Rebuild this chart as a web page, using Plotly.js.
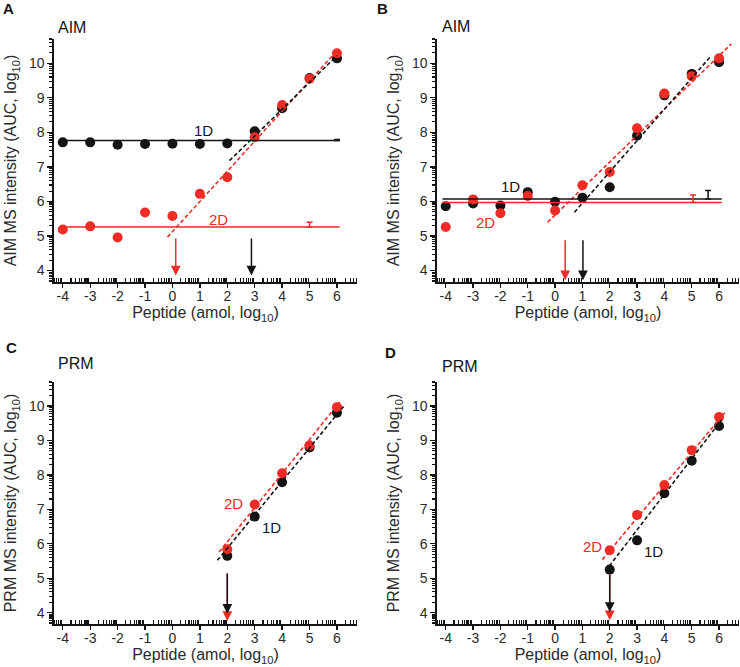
<!DOCTYPE html>
<html>
<head>
<meta charset="utf-8">
<script src="https://cdn.plot.ly/plotly-3.0.1.min.js"></script>
<style>html,body{margin:0;padding:0;background:#fff;}#chart{width:740px;height:667px;}</style>
</head>
<body>
<div id="chart"></div>
<script>
// ---------- data ----------
const doses = [-4, -3, -2, -1, 0, 1, 2, 3, 4, 5, 6];
const aimA_1D = [7.71, 7.71, 7.64, 7.66, 7.67, 7.66, 7.68, 8.03, 8.70, 9.57, 10.14];
const aimA_2D = [5.19, 5.28, 4.96, 5.68, 5.58, 6.22, 6.70, 7.86, 8.79, 9.55, 10.29];
const aimB_1D = [5.86, 5.94, 5.88, 6.27, 5.99, 6.11, 6.41, 7.90, 9.07, 9.69, 10.03];
const aimB_2D = [5.26, 6.06, 5.66, 6.16, 5.74, 6.47, 6.85, 8.12, 9.12, 9.62, 10.14];
const prmDoses = [2, 3, 4, 5, 6];
const prmC_1D = [5.65, 6.79, 7.79, 8.80, 9.81];
const prmC_2D = [5.84, 7.14, 8.05, 8.86, 9.97];
const prmD_1D = [5.25, 6.10, 7.47, 8.41, 9.42];
const prmD_2D = [5.81, 6.84, 7.71, 8.72, 9.68];

// background (blank) levels, drawn as horizontal lines
const blankLineX = [-4.12, 6.1];
const blankA_1D = 7.76, blankA_2D = 5.26;
const blankB_1D = 6.07, blankB_2D = 5.97;
// error bars on blank levels
const errA_1D = {x: 6.0, up: 0.03}, errA_2D = {x: 5.0, up: 0.14};
const errB_1D = {x: 5.6, up: 0.25}, errB_2D = {x: 5.05, up: 0.22};

// linear fit segments (x endpoints, y endpoints)
const fitA_1D_x = [2.08, 6.0], fitA_1D_y = [7.18, 10.22];
const fitA_2D_x = [-0.18, 6.0], fitA_2D_y = [4.97, 10.36];
const fitB_1D_x = [0.71, 5.72], fitB_1D_y = [5.69, 10.22];
const fitB_2D_x = [-0.27, 6.45], fitB_2D_y = [5.40, 10.56];
const fitC_1D_x = [1.64, 6.30], fitC_1D_y = [5.52, 10.05];
const fitC_2D_x = [1.70, 6.12], fitC_2D_y = [5.76, 10.14];
const fitD_1D_x = [1.98, 6.09], fitD_1D_y = [5.35, 9.60];
const fitD_2D_x = [1.73, 6.21], fitD_2D_y = [5.54, 9.81];

// limit-of-detection arrows: x, top y, tip y
const lodA = {x2D: 0.12, x1D: 2.88, top: 4.97, tip2D: 3.86, tip1D: 3.86};
const lodB = {x2D: 0.37, x1D: 1.02, top: 4.92, tip2D: 3.72, tip1D: 3.72};
const lodC = {x2D: 2.0, x1D: 2.0, top: 5.18, tip2D: 3.76, tip1D: 3.97};
const lodD = {x2D: 2.0, x1D: 2.0, top: 5.15, tip2D: 3.78, tip1D: 4.02};

const xTickVals = [-4, -3, -2, -1, 0, 1, 2, 3, 4, 5, 6];
const xTickText = ['-4', '-3', '-2', '-1', '0', '1', '2', '3', '4', '5', '6'];
const yTickVals = [4, 5, 6, 7, 8, 9, 10];
const yTickText = ['4', '5', '6', '7', '8', '9', '10'];

// ---------- styling ----------
const RED = '#ee2b24', BLACK = '#141414', TXT = '#2a2a2a';
const FONT = 'Liberation Sans, Arial, sans-serif';
const XR = [-4.32, 6.73], YR = [3.67, 10.7];

// log-style minor tick positions (axis decoration)
function logMinor(lo, hi) {
  const v = [];
  for (let k = Math.floor(lo) - 1; k <= Math.ceil(hi); k++)
    for (let m = 2; m <= 9; m++) { const t = k + Math.log10(m); if (t > lo && t < hi) v.push(t); }
  return v;
}
const xMinor = logMinor(XR[0], XR[1]);
const yMinor = logMinor(YR[0], YR[1]);

const W = 740, H = 667;
const px = v => v / W, py = v => 1 - v / H;
const colDom = [[px(54), px(357)], [px(437), px(739)]];
const rowDom = [[py(282), py(39)], [py(624), py(382)]];

function xAxis(dom, anchor) {
  return {
    domain: dom, anchor: anchor, range: XR, showgrid: false, zeroline: false,
    showline: true, linecolor: BLACK, linewidth: 1.6, mirror: false,
    tickmode: 'array', tickvals: xTickVals, ticktext: xTickText,
    ticks: 'outside', ticklen: 4, tickwidth: 1.3, tickcolor: BLACK,
    ticklabelstandoff: -3,
    tickfont: {family: FONT, size: 14, color: TXT},
    minor: {tickmode: 'array', tickvals: xMinor, ticks: 'inside', ticklen: 4, tickwidth: 1.1, tickcolor: BLACK},
    title: {text: 'Peptide (amol, log<sub>10</sub>)', font: {family: FONT, size: 16, color: TXT}, standoff: 2},
    fixedrange: true
  };
}
function yAxis(dom, anchor, label) {
  return {
    domain: dom, anchor: anchor, range: YR, showgrid: false, zeroline: false,
    showline: true, linecolor: BLACK, linewidth: 1.6,
    tickmode: 'array', tickvals: yTickVals, ticktext: yTickText,
    ticks: 'outside', ticklen: 5, tickwidth: 1.3, tickcolor: BLACK,
    tickfont: {family: FONT, size: 14, color: TXT},
    minor: {tickmode: 'array', tickvals: yMinor, ticks: 'outside', ticklen: 3, tickwidth: 1.1, tickcolor: BLACK},
    title: {text: label + ' MS intensity (AUC, log<sub>10</sub>)', font: {family: FONT, size: 16, color: TXT}, standoff: 8},
    fixedrange: true
  };
}

const traces = [];
function dots(x, y, color, xa, ya) {
  traces.push({x: x, y: y, xaxis: xa, yaxis: ya, mode: 'markers', type: 'scatter',
    marker: {color: color, size: 10, line: {width: 0}}, hoverinfo: 'skip'});
}
function fit(x, y, color, xa, ya) {
  traces.push({x: x, y: y, xaxis: xa, yaxis: ya, mode: 'lines', type: 'scatter',
    line: {color: color, width: 1.6, dash: '4px,2.5px'}, hoverinfo: 'skip'});
}
function blank(level, err, color, xa, ya) {
  traces.push({x: blankLineX, y: [level, level], xaxis: xa, yaxis: ya, mode: 'lines', type: 'scatter',
    line: {color: color, width: 1.5}, hoverinfo: 'skip'});
  traces.push({x: [err.x], y: [level], xaxis: xa, yaxis: ya, mode: 'markers', type: 'scatter',
    marker: {size: 1, color: 'rgba(0,0,0,0)'},
    error_y: {type: 'data', symmetric: false, array: [err.up], arrayminus: [0], color: color, thickness: 1.5, width: 3},
    hoverinfo: 'skip'});
}

// Panel A
dots(doses, aimA_1D, BLACK, 'x', 'y');
dots(doses, aimA_2D, RED, 'x', 'y');
fit(fitA_2D_x, fitA_2D_y, RED, 'x', 'y');
fit(fitA_1D_x, fitA_1D_y, BLACK, 'x', 'y');
blank(blankA_1D, errA_1D, BLACK, 'x', 'y');
blank(blankA_2D, errA_2D, RED, 'x', 'y');
// Panel B
dots(doses, aimB_1D, BLACK, 'x2', 'y2');
dots(doses, aimB_2D, RED, 'x2', 'y2');
fit(fitB_2D_x, fitB_2D_y, RED, 'x2', 'y2');
fit(fitB_1D_x, fitB_1D_y, BLACK, 'x2', 'y2');
blank(blankB_1D, errB_1D, BLACK, 'x2', 'y2');
blank(blankB_2D, errB_2D, RED, 'x2', 'y2');
// Panel C
dots(prmDoses, prmC_1D, BLACK, 'x3', 'y3');
dots(prmDoses, prmC_2D, RED, 'x3', 'y3');
fit(fitC_2D_x, fitC_2D_y, RED, 'x3', 'y3');
fit(fitC_1D_x, fitC_1D_y, BLACK, 'x3', 'y3');
// Panel D
dots(prmDoses, prmD_1D, BLACK, 'x4', 'y4');
dots(prmDoses, prmD_2D, RED, 'x4', 'y4');
fit(fitD_2D_x, fitD_2D_y, RED, 'x4', 'y4');
fit(fitD_1D_x, fitD_1D_y, BLACK, 'x4', 'y4');

const ann = [];
function arrow(x, top, tip, color, xa, ya) {
  ann.push({x: x, y: tip, ax: x, ay: top, xref: xa, yref: ya, axref: xa, ayref: ya,
    text: '', showarrow: true, arrowhead: 2, arrowsize: 1.3, arrowwidth: 1.5, arrowcolor: color, standoff: 0});
}
function label(x, y, text, color, xa, ya) {
  ann.push({x: x, y: y, xref: xa, yref: ya, text: text, showarrow: false,
    font: {family: FONT, size: 15, color: color}, xanchor: 'center', yanchor: 'middle'});
}
function ptext(x, y, text, size, bold) {
  ann.push({x: px(x), y: py(y), xref: 'paper', yref: 'paper', text: bold ? '<b>' + text + '</b>' : text,
    showarrow: false, xanchor: 'left', yanchor: 'middle', font: {family: FONT, size: size, color: BLACK}});
}

arrow(lodA.x2D, lodA.top, lodA.tip2D, RED, 'x', 'y');
arrow(lodA.x1D, lodA.top, lodA.tip1D, BLACK, 'x', 'y');
arrow(lodB.x2D, lodB.top, lodB.tip2D, RED, 'x2', 'y2');
arrow(lodB.x1D, lodB.top, lodB.tip1D, BLACK, 'x2', 'y2');
arrow(lodC.x2D, lodC.top, lodC.tip2D, RED, 'x3', 'y3');
arrow(lodC.x1D, lodC.top, lodC.tip1D, BLACK, 'x3', 'y3');
arrow(lodD.x2D, lodD.top, lodD.tip2D, RED, 'x4', 'y4');
arrow(lodD.x1D, lodD.top, lodD.tip1D, BLACK, 'x4', 'y4');

label(1.12, 8.05, '1D', BLACK, 'x', 'y');
label(1.67, 5.47, '2D', RED, 'x', 'y');
label(-1.64, 6.42, '1D', BLACK, 'x2', 'y2');
label(-2.55, 5.40, '2D', RED, 'x2', 'y2');
label(2.24, 7.18, '2D', RED, 'x3', 'y3');
label(3.61, 6.46, '1D', BLACK, 'x3', 'y3');
label(1.36, 5.92, '2D', RED, 'x4', 'y4');
label(3.60, 5.78, '1D', BLACK, 'x4', 'y4');

ptext(1, 8.5, 'A', 15, true);
ptext(56, 28, 'AIM', 16, false);
ptext(375, 8.5, 'B', 15, true);
ptext(440, 26, 'AIM', 16, false);
ptext(4, 347, 'C', 15, true);
ptext(56, 364, 'PRM', 16, false);
ptext(383, 352, 'D', 15, true);
ptext(440, 366, 'PRM', 16, false);

const layout = {
  width: W, height: H, margin: {l: 0, r: 0, t: 0, b: 0},
  paper_bgcolor: '#ffffff', plot_bgcolor: '#ffffff', showlegend: false,
  font: {family: FONT, color: TXT},
  xaxis: xAxis(colDom[0], 'y'), yaxis: yAxis(rowDom[0], 'x', 'AIM'),
  xaxis2: xAxis(colDom[1], 'y2'), yaxis2: yAxis(rowDom[0], 'x2', 'AIM'),
  xaxis3: xAxis(colDom[0], 'y3'), yaxis3: yAxis(rowDom[1], 'x3', 'PRM'),
  xaxis4: xAxis(colDom[1], 'y4'), yaxis4: yAxis(rowDom[1], 'x4', 'PRM'),
  annotations: ann
};
Plotly.newPlot('chart', traces, layout, {staticPlot: true, displayModeBar: false});
</script>
</body>
</html>
